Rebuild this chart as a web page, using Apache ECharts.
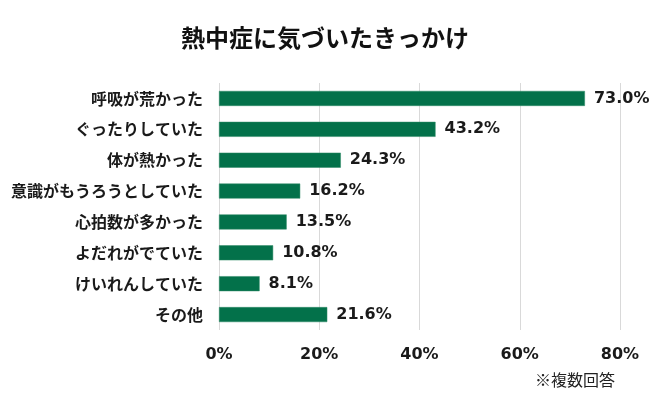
<!DOCTYPE html>
<html>
<head>
<meta charset="utf-8">
<script src="https://cdn.jsdelivr.net/npm/echarts@6/dist/echarts.min.js"></script>
<style>
html, body { margin: 0; padding: 0; background: #fff; }
#chart1 { width: 650px; height: 398px; }
</style>
</head>
<body>
<div id="chart1"></div>
<script>
// カテゴリ名と割合(%)
var categories = ['呼吸が荒かった', 'ぐったりしていた', '体が熱かった', '意識がもうろうとしていた',
    '心拍数が多かった', 'よだれがでていた', 'けいれんしていた', 'その他'];
var values = [73.0, 43.2, 24.3, 16.2, 13.5, 10.8, 8.1, 21.6];
var xTicks = [0, 20, 40, 60, 80];

var jpFont = '"Noto Sans CJK JP", "Noto Sans", sans-serif';
var numFont = '"DejaVu Sans", "Noto Sans CJK JP", sans-serif';
var chart1 = echarts.init(document.getElementById('chart1'));

var option = {
    backgroundColor: '#ffffff',
    title: [
        {
            text: '熱中症に気づいたきっかけ',
            left: 'center',
            top: 21,
            textStyle: { fontFamily: jpFont, fontSize: 24, fontWeight: 'bold', color: '#111' }
        },
        {
            text: '※複数回答',
            left: 530,
            top: 367,
            textStyle: { fontFamily: jpFont, fontSize: 16, fontWeight: 'normal', color: '#222' }
        }
    ],
    grid: { left: 219, right: 30, top: 83, bottom: 68 },
    xAxis: {
        type: 'value',
        min: xTicks[0],
        max: xTicks[xTicks.length - 1],
        interval: 20,
        axisLine: { show: false },
        axisTick: { show: false },
        splitLine: { lineStyle: { color: '#d9d9d9', width: 1 } },
        axisLabel: {
            formatter: '{value}%',
            margin: 17,
            fontFamily: numFont, fontSize: 16, fontWeight: 'bold', color: '#1a1a1a'
        }
    },
    yAxis: {
        type: 'category',
        inverse: true,
        data: categories,
        axisLine: { show: false },
        axisTick: { show: false },
        axisLabel: {
            margin: 16,
            fontFamily: jpFont, fontSize: 16, fontWeight: 'bold', color: '#1a1a1a'
        }
    },
    series: [
        {
            type: 'bar',
            data: values,
            barWidth: 15,
            itemStyle: { color: '#03714a', borderColor: '#2f8a66', borderWidth: 0.5 },
            label: {
                show: true,
                position: 'right',
                distance: 9,
                formatter: function (p) { return p.value.toFixed(1) + '%'; },
                fontFamily: numFont, fontSize: 16, fontWeight: 'bold', color: '#1a1a1a'
            }
        }
    ]
};

chart1.setOption(option);
</script>
</body>
</html>
